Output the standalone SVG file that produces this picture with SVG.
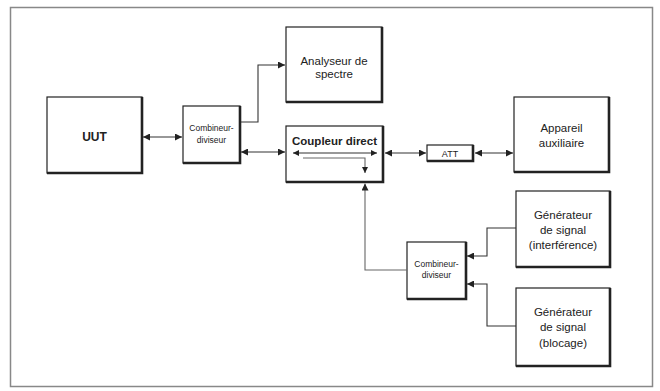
<svg xmlns="http://www.w3.org/2000/svg" width="660" height="391" viewBox="0 0 660 391">
<defs>
<marker id="ah" viewBox="0 0 10 10" refX="10" refY="5" markerWidth="7" markerHeight="7" markerUnits="userSpaceOnUse" orient="auto-start-reverse"><path d="M0,0 L10,5 L0,10 z" fill="#222"/></marker>
<marker id="ahs" viewBox="0 0 10 10" refX="10" refY="5" markerWidth="6" markerHeight="6" markerUnits="userSpaceOnUse" orient="auto-start-reverse"><path d="M0,0 L10,5 L0,10 z" fill="#222"/></marker>
</defs>
<style>
.box{fill:#fff;stroke:#222;stroke-width:1.2}
.sh{fill:none;stroke:#222;stroke-width:2.6}
.t{font-family:"Liberation Sans",Arial,sans-serif;fill:#222;text-anchor:middle}
.n{font-size:11.5px}
.b{font-size:11.5px;font-weight:bold}
.s{font-size:8.5px}
.c{fill:none;stroke:#333;stroke-width:1.1}
.g{fill:none;stroke:#666;stroke-width:1.1}
</style>
<rect x="10.5" y="7.5" width="642" height="379" fill="#fff" stroke="#888" stroke-width="1.5"/>

<g id="uut">
<rect class="box" x="47" y="97" width="95" height="76"/>
<path class="sh" d="M142,97 V173 H47"/>
<text class="t" x="94.5" y="141" style="font-size:12px;font-weight:bold">UUT</text>
</g>

<g id="comb1">
<rect class="box" x="183" y="106" width="57" height="57"/>
<path class="sh" d="M240,106 V163 H183"/>
<text class="t s" x="211.5" y="131">Combineur-</text>
<text class="t s" x="211.5" y="143">diviseur</text>
</g>

<g id="analyseur">
<rect class="box" x="286" y="27" width="96" height="75"/>
<path class="sh" d="M382,27 V102 H286"/>
<text class="t n" x="334" y="65">Analyseur de</text>
<text class="t n" x="334" y="78">spectre</text>
</g>

<g id="coupleur">
<rect class="box" x="286" y="126" width="97" height="56"/>
<path class="sh" d="M383,126 V182 H286"/>
<text class="t b" x="334.5" y="145">Coupleur direct</text>
<path class="c" d="M293,153 H377" marker-start="url(#ahs)" marker-end="url(#ahs)"/>
<path class="g" d="M303,158 H365 V173" marker-end="url(#ahs)"/>
</g>

<g id="att">
<rect class="box" x="427" y="145" width="46" height="16"/>
<path class="sh" d="M473,145 V161 H427"/>
<text class="t" x="450" y="156.5" style="font-size:9px">ATT</text>
</g>

<g id="appareil">
<rect class="box" x="514" y="97" width="95" height="75"/>
<path class="sh" d="M609,97 V172 H514"/>
<text class="t n" x="561.5" y="132">Appareil</text>
<text class="t n" x="561.5" y="147">auxiliaire</text>
</g>

<g id="gen1">
<rect class="box" x="516" y="191" width="94" height="76"/>
<path class="sh" d="M610,191 V267 H516"/>
<text class="t n" x="563" y="219">Générateur</text>
<text class="t n" x="563" y="234">de signal</text>
<text class="t n" x="563" y="249">(interférence)</text>
</g>

<g id="gen2">
<rect class="box" x="516" y="288" width="94" height="78"/>
<path class="sh" d="M610,288 V366 H516"/>
<text class="t n" x="563" y="316">Générateur</text>
<text class="t n" x="563" y="331">de signal</text>
<text class="t n" x="563" y="347">(blocage)</text>
</g>

<g id="comb2">
<rect class="box" x="407" y="242" width="59" height="57"/>
<path class="sh" d="M466,242 V299 H407"/>
<text class="t s" x="436.5" y="267">Combineur-</text>
<text class="t s" x="436.5" y="278">diviseur</text>
</g>

<g id="connectors">
<path class="c" d="M143,137 H182" marker-start="url(#ah)" marker-end="url(#ah)"/>
<path class="c" d="M241,122 H258 V65 H285" marker-end="url(#ah)"/>
<path class="c" d="M241,152 H285" marker-start="url(#ah)" marker-end="url(#ah)"/>
<path class="c" d="M385,153 H426" marker-start="url(#ah)" marker-end="url(#ah)"/>
<path class="c" d="M475,153 H513" marker-start="url(#ah)" marker-end="url(#ah)"/>
<path class="c" d="M516,228 H487 V256 H467" marker-end="url(#ah)"/>
<path class="c" d="M516,326 H487 V284 H467" marker-end="url(#ah)"/>
<path class="g" d="M407,270 H365 V183.5" marker-end="url(#ah)"/>
</g>
</svg>
